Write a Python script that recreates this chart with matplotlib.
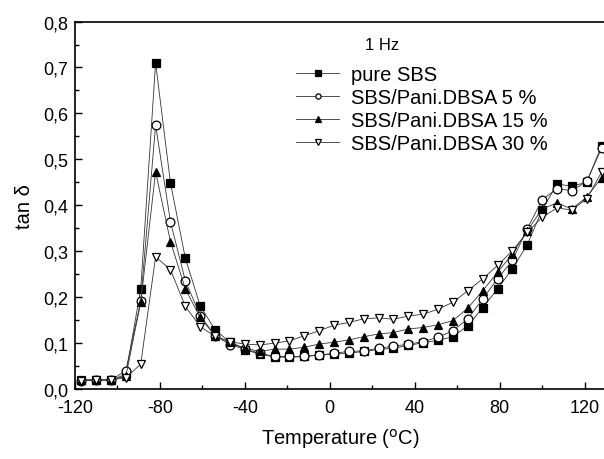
import matplotlib
matplotlib.use("Agg")
import matplotlib.pyplot as plt
from matplotlib.ticker import MultipleLocator, FuncFormatter

plt.rcParams['font.family'] = ['Liberation Sans', 'DejaVu Sans']
plt.rcParams['axes.unicode_minus'] = False

# temperature grid (deg C)
temps = [-117, -110, -103, -96, -89, -82, -75, -68, -61, -54, -47, -40,
         -33, -26, -19, -12, -5, 2, 9, 16, 23, 30, 37, 44,
         51, 58, 65, 72, 79, 86, 93, 100, 107, 114, 121, 128]

pure_sbs = [0.020, 0.020, 0.020, 0.032, 0.218, 0.710, 0.449, 0.285, 0.181, 0.129, 0.102, 0.086,
            0.076, 0.070, 0.069, 0.071, 0.074, 0.076, 0.078, 0.082, 0.086, 0.089, 0.095, 0.101,
            0.106, 0.114, 0.138, 0.177, 0.218, 0.262, 0.314, 0.390, 0.446, 0.442, 0.450, 0.530]

pani_5 = [0.018, 0.020, 0.020, 0.040, 0.192, 0.575, 0.364, 0.236, 0.160, 0.116, 0.097, 0.087,
          0.078, 0.071, 0.071, 0.071, 0.074, 0.078, 0.082, 0.083, 0.089, 0.093, 0.098, 0.103,
          0.113, 0.127, 0.153, 0.196, 0.240, 0.280, 0.349, 0.412, 0.436, 0.432, 0.452, 0.524]

pani_15 = [0.020, 0.020, 0.020, 0.028, 0.189, 0.473, 0.321, 0.218, 0.156, 0.116, 0.102, 0.089,
           0.082, 0.087, 0.087, 0.091, 0.098, 0.102, 0.107, 0.114, 0.120, 0.123, 0.131, 0.134,
           0.140, 0.149, 0.176, 0.214, 0.254, 0.294, 0.345, 0.392, 0.405, 0.392, 0.418, 0.460]

pani_30 = [0.018, 0.020, 0.020, 0.025, 0.054, 0.288, 0.260, 0.180, 0.136, 0.115, 0.103, 0.098,
           0.096, 0.100, 0.105, 0.116, 0.127, 0.139, 0.145, 0.153, 0.155, 0.152, 0.159, 0.163,
           0.174, 0.189, 0.214, 0.240, 0.269, 0.301, 0.341, 0.374, 0.394, 0.390, 0.414, 0.472]

series = [
    ("pure SBS", pure_sbs, "s", "black"),
    ("SBS/Pani.DBSA 5 %", pani_5, "o", "white"),
    ("SBS/Pani.DBSA 15 %", pani_15, "^", "black"),
    ("SBS/Pani.DBSA 30 %", pani_30, "v", "white"),
]

fig = plt.figure(figsize=(6.04, 4.60), dpi=100)
ax = fig.add_axes([0.124, 0.152, 0.879, 0.799])

for label, vals, marker, face in series:
    ax.plot(temps, vals, color="#333333", lw=0.6, marker=marker, ms=6.3,
            mfc=face, mec="black", mew=0.9, label=label)

ax.set_xlim(-120, 130)
ax.set_ylim(0, 0.8)
ax.xaxis.set_major_locator(MultipleLocator(40))
ax.xaxis.set_minor_locator(MultipleLocator(20))
ax.yaxis.set_major_locator(MultipleLocator(0.1))
ax.yaxis.set_minor_locator(MultipleLocator(0.05))
ax.yaxis.set_major_formatter(FuncFormatter(lambda v, p: f"{v:.1f}".replace(".", ",")))
ax.tick_params(which="both", direction="in", labelsize=13, width=1)
ax.tick_params(which="major", length=5)
ax.tick_params(which="minor", length=3)
ax.tick_params(axis="x", pad=7)
ax.tick_params(axis="y", pad=5)
ax.spines["right"].set_visible(False)
for s in ["left", "bottom", "top"]:
    ax.spines[s].set_linewidth(1.2)

ax.set_xlabel("Temperature ($^{\\mathrm{o}}$C)", fontsize=14.5, labelpad=7)
ax.set_ylabel("tan δ", fontsize=14.5, labelpad=6)

fig.text(0.604, 0.902, "1 Hz", fontsize=12, ha="left", va="center")
ax.legend(loc="upper left", bbox_to_anchor=(0.474, 0.878), bbox_transform=fig.transFigure,
          frameon=False, fontsize=14.5, markerscale=0.6, handlelength=2.1,
          handletextpad=0.6, labelspacing=0.2, borderpad=0)

fig.savefig("out.png", dpi=100)
